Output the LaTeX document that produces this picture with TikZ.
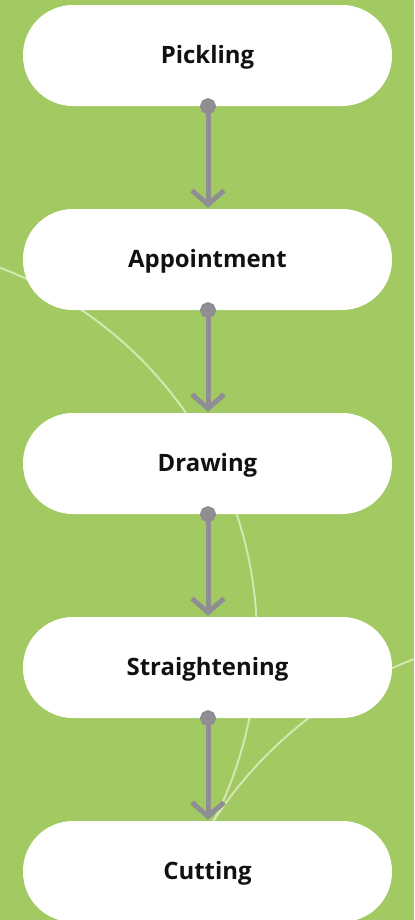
\documentclass[tikz,border=0pt]{standalone}
\usepackage{fontspec}
\setmainfont{Open Sans}
\usetikzlibrary{arrows.meta}
\definecolor{bggreen}{HTML}{A3C962}
\definecolor{curvegreen}{HTML}{D3E7B0}
\definecolor{arrowgrey}{HTML}{8E8E93}
\definecolor{txt}{HTML}{111111}
\tikzset{
  stepbox/.style={rectangle, fill=white, rounded corners=50bp, minimum width=369bp, minimum height=101bp, inner sep=0pt, text height=20bp, text depth=5bp, font=\fontsize{24}{28}\selectfont\bfseries, text=txt},
  flow/.style={draw=arrowgrey, line width=5bp, {Circle[length=16bp]}-{Straight Barb[length=14bp,width=32bp]}},
  bgcurve/.style={draw=curvegreen, line width=2bp}
}
\begin{document}
\begin{tikzpicture}[x=1bp,y=-1bp]
\fill[bggreen] (0,0) rectangle (414,920);
\useasboundingbox (0,0) rectangle (414,920);
\begin{scope}
\clip (0,0) rectangle (414,920);
\draw[bgcurve] (-141,640) circle[radius=398bp];
\draw[bgcurve] (562,1048) circle[radius=416bp];
\end{scope}
\node[stepbox] (p) at (207.5,55.5) {Pickling};
\node[stepbox] (a) at (207.5,259.5) {Appointment};
\node[stepbox] (d) at (207.5,463.5) {Drawing};
\node[stepbox] (s) at (207.5,667.5) {Straightening};
\node[stepbox] (c) at (207.5,871.5) {Cutting};
\draw[flow] ([xshift=0.5bp,yshift=8bp]p.south) -- ([xshift=0.5bp,yshift=1bp]a.north);
\draw[flow] ([xshift=0.5bp,yshift=8bp]a.south) -- ([xshift=0.5bp,yshift=1bp]d.north);
\draw[flow] ([xshift=0.5bp,yshift=8bp]d.south) -- ([xshift=0.5bp,yshift=1bp]s.north);
\draw[flow] ([xshift=0.5bp,yshift=8bp]s.south) -- ([xshift=0.5bp,yshift=1bp]c.north);
\end{tikzpicture}
\end{document}
